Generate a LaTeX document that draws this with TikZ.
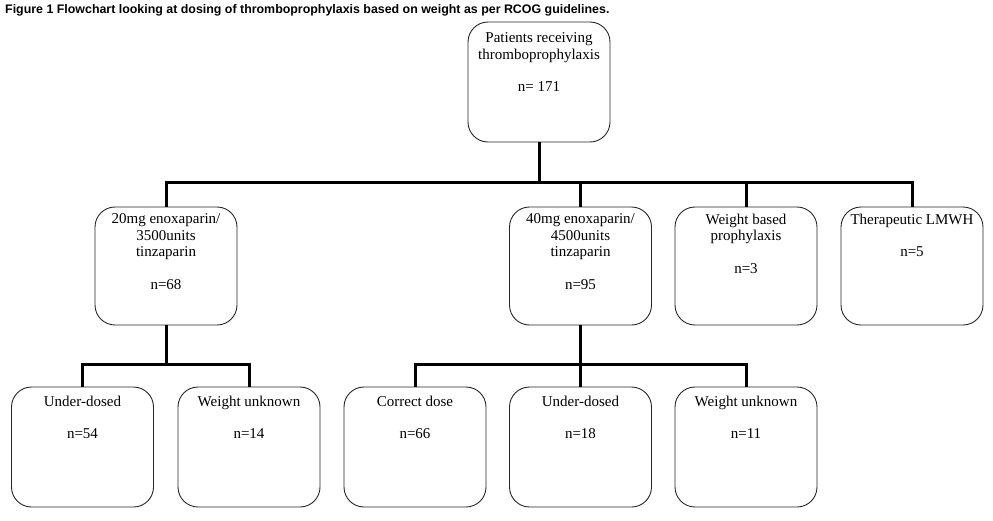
\documentclass[tikz,border=0pt]{standalone}
\usepackage{fontspec}
\setmainfont{Liberation Serif}
\newfontfamily\titlefont{Liberation Sans}
\begin{document}
\begin{tikzpicture}[x=1pt,y=-1pt,
  box/.style={draw=black!85, line width=0.9pt, rounded corners=20pt, minimum width=142pt, inner sep=0pt},
  boxt/.style={box, minimum height=120pt},
  boxm/.style={box, minimum height=118pt},
  txt/.style={align=center, font=\fontsize{15}{16.5}\selectfont, inner sep=0pt},
  conn/.style={line width=3pt, line join=miter}]
\useasboundingbox (0,0) rectangle (993,520);
\node[anchor=west, font=\titlefont\bfseries\fontsize{12.4}{14}\selectfont, inner sep=0pt] (title) at (5,10) {Figure 1 Flowchart looking at dosing of thromboprophylaxis based on weight as per RCOG guidelines.};

\node[boxt, label={[txt, anchor=north, yshift=-11pt]north:{Patients receiving\\thromboprophylaxis\\[16pt]n= 171}}] (t) at (539,82) {};

\node[boxm, label={[txt, anchor=north, yshift=-7pt]north:{20mg enoxaparin/\\3500units\\tinzaparin\\[16pt]n=68}}] (a) at (166,266) {};
\node[boxm, label={[txt, anchor=north, yshift=-7pt]north:{40mg enoxaparin/\\4500units\\tinzaparin\\[16pt]n=95}}] (b) at (580.5,266) {};
\node[boxm, label={[txt, anchor=north, yshift=-7pt]north:{Weight based\\prophylaxis\\[16pt]n=3}}] (c) at (746,266) {};
\node[boxm, label={[txt, anchor=north, yshift=-7pt]north:{Therapeutic LMWH\\[16pt]n=5}}] (d) at (912,266) {};

\node[boxt, label={[txt, anchor=north, yshift=-9pt]north:{Under-dosed\\[16pt]n=54}}] (r1) at (82.5,447) {};
\node[boxt, label={[txt, anchor=north, yshift=-9pt]north:{Weight unknown\\[16pt]n=14}}] (r2) at (249,447) {};
\node[boxt, label={[txt, anchor=north, yshift=-9pt]north:{Correct dose\\[16pt]n=66}}] (r3) at (415,447) {};
\node[boxt, label={[txt, anchor=north, yshift=-9pt]north:{Under-dosed\\[16pt]n=18}}] (r4) at (580.5,447) {};
\node[boxt, label={[txt, anchor=north, yshift=-9pt]north:{Weight unknown\\[16pt]n=11}}] (r5) at (746,447) {};

\coordinate (j1) at (539,182);
\coordinate (j2) at (166,364);
\coordinate (j3) at (580.5,364);

\draw[conn] (t.south) -- (j1);
\draw[conn] (a.north) |- (j1) -| (d.north);
\draw[conn] (b.north) -- (b.north |- j1);
\draw[conn] (c.north) -- (c.north |- j1);

\draw[conn] (a.south) -- (j2);
\draw[conn] (r1.north) |- (j2) -| (r2.north);

\draw[conn] (b.south) -- (j3);
\draw[conn] (r3.north) |- (j3) -| (r5.north);
\draw[conn] (r4.north) -- (j3);
\end{tikzpicture}
\end{document}
